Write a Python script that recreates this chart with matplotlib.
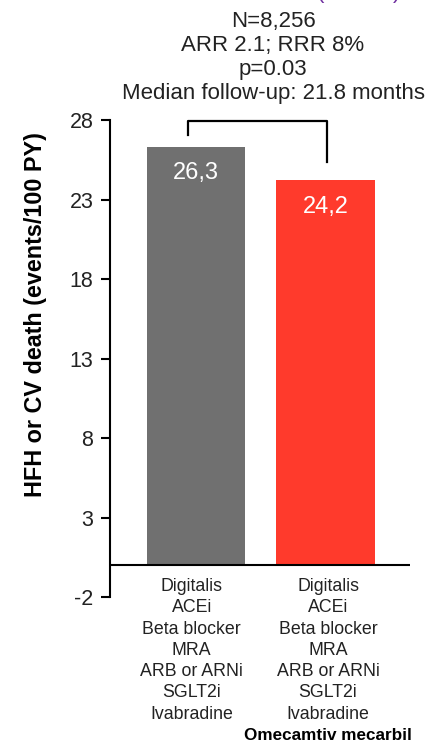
import numpy as np
import matplotlib.pyplot as plt

plt.rcParams['font.family'] = ['Liberation Sans', 'DejaVu Sans']
plt.rcParams['axes.unicode_minus'] = False

# Event rates per arm (events/100 PY)
values = [26.3, 24.2]
value_labels = ['26,3', '24,2']
colors = ['#707070', '#FF3A2C']
yticks = [-2, 3, 8, 13, 18, 23, 28]
therapies = ['Digitalis', 'ACEi', 'Beta blocker', 'MRA', 'ARB or ARNi', 'SGLT2i', 'Ivabradine']
header = ['N=8,256', 'ARR 2.1; RRR 8%', 'p=0.03', 'Median follow-up: 21.8 months']

fig = plt.figure(figsize=(4.4, 7.46), dpi=100)
ax = fig.add_axes([0.25, 0.1997, 0.682, 0.6394])

x = np.arange(len(values))
ax.bar(x, values, width=0.76, color=colors, zorder=2)
for xi, v, lab in zip(x, values, value_labels):
    ax.text(xi, v - 1.65, lab, ha='center', va='center', color='white', fontsize=17)

ax.set_xlim(-0.663, 1.652)
ax.set_ylim(-2, 28)
ax.set_yticks(yticks)
ax.tick_params(axis='y', direction='out', length=6.5, width=1.5, pad=5.5, labelsize=15.5,
               labelcolor='#222222')
ax.set_xticks([])
for s in ['top', 'right', 'bottom']:
    ax.spines[s].set_visible(False)
ax.spines['left'].set_linewidth(1.5)
ax.axhline(0, color='black', lw=1.5, zorder=3)

# comparison bracket
ax.plot([-0.064, -0.064, 1.01, 1.01], [27.04, 27.92, 27.92, 25.33], color='black', lw=1.6, clip_on=False)

fig.text(0.08, 1 - 315 / 746, 'HFH or CV death (events/100 PY)', rotation=90,
         ha='center', va='center', fontsize=16.8, fontweight='bold')

fig.text(273 / 440, 1 - 57.5 / 746, '\n'.join(header), ha='center', va='center',
         fontsize=16, linespacing=1.17, color='#222222')

# purple heading cut off at the top edge
fig.text(320 / 440, 1 + 2 / 746, '(', color='#7030A0', fontsize=16, ha='center', va='baseline')
fig.text(397 / 440, 1 + 2 / 746, ')', color='#7030A0', fontsize=16, ha='center', va='baseline')

for cx in [191.7, 328.0]:
    fig.text(cx / 440, 1 - 578 / 746, '\n'.join(therapies), ha='center', va='top',
             fontsize=12.8, linespacing=1.33, color='#222222')
fig.text(328 / 440, 1 - 735 / 746, 'Omecamtiv mecarbil', ha='center', va='center',
         fontsize=12.3, fontweight='bold')

fig.savefig('out.png', dpi=100)
